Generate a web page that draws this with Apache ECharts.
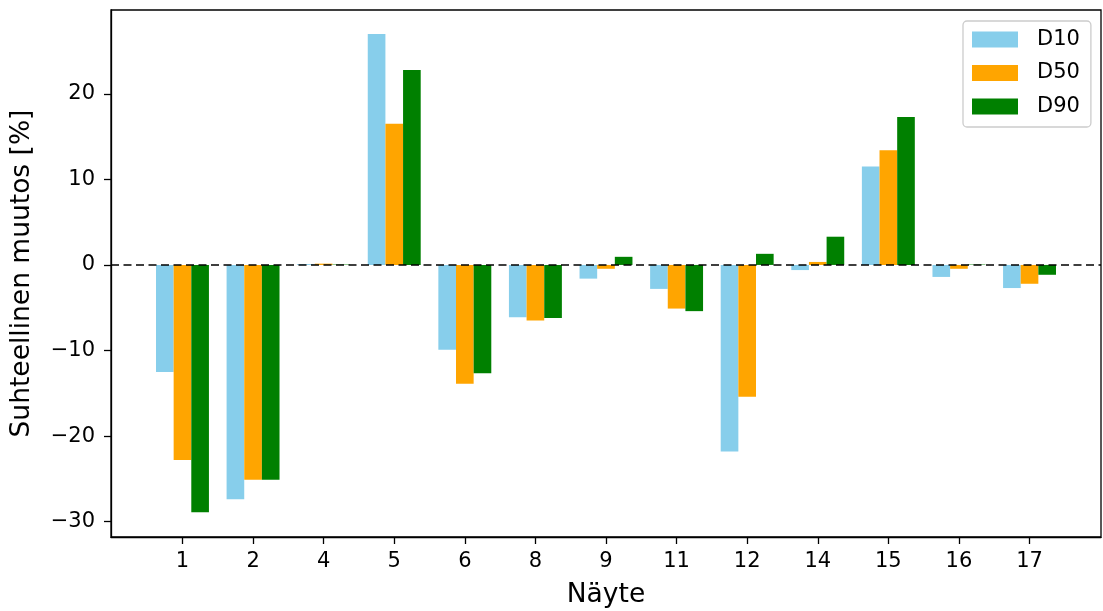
<!DOCTYPE html>
<html>
<head>
<meta charset="utf-8">
<script src="https://cdn.jsdelivr.net/npm/echarts@6/dist/echarts.min.js"></script>
<style>
html,body{margin:0;padding:0;background:#fff;}
#chart{width:1103px;height:611px;}
</style>
</head>
<body>
<div id="chart"></div>
<script>
var categories = ['1','2','4','5','6','8','9','11','12','14','15','16','17'];
var d10 = [-12.5, -27.4, 0.1, 27.0, -9.9, -6.1, -1.6, -2.8, -21.8, -0.6, 11.5, -1.4, -2.7];
var d50 = [-22.8, -25.1, 0.15, 16.5, -13.9, -6.5, -0.45, -5.1, -15.4, 0.35, 13.4, -0.45, -2.2];
var d90 = [-28.9, -25.1, 0.05, 22.8, -12.65, -6.2, 0.95, -5.4, 1.3, 3.3, 17.3, 0.05, -1.15];
var yTicks = [-30, -20, -10, 0, 10, 20];
var seriesNames = ['D10', 'D50', 'D90'];
var colors = ['#87CEEB', '#FFA500', '#008000'];

var font = 'DejaVu Sans';
var xIdx = categories.map(function(c, i){ return i; });
function pairs(arr){ return arr.map(function(v, i){ return [xIdx[i], v]; }); }
var allData = [d10, d50, d90];

var chart = echarts.init(document.getElementById('chart'), null, {renderer: 'canvas'});
var series = seriesNames.map(function(name, k){
  var s = {
    name: name,
    type: 'bar',
    data: pairs(allData[k]),
    barWidth: '25%',
    barGap: '0%',
    itemStyle: {color: colors[k]},
    emphasis: {disabled: true}
  };
  if (k === seriesNames.length - 1) {
    s.markLine = {
      silent: true,
      symbol: 'none',
      label: {show: false},
      lineStyle: {color: '#000', width: 1.5, type: [8, 4.5]},
      data: [{yAxis: 0}]
    };
  }
  return s;
});

chart.setOption({
  animation: false,
  backgroundColor: '#fff',
  textStyle: {fontFamily: font},
  grid: {left: 111, right: 2, top: 10, bottom: 74, outerBoundsMode: 'none', containLabel: false,
    show: true, borderColor: '#000', borderWidth: 1.3, backgroundColor: 'transparent'},
  legend: {
    orient: 'vertical',
    left: 963, top: 21,
    padding: [8, 11, 10, 9],
    itemWidth: 46, itemHeight: 16, itemGap: 12.5,
    borderColor: '#cccccc', borderWidth: 1.3, borderRadius: 4,
    backgroundColor: 'rgba(255,255,255,0.8)',
    icon: 'rect',
    textStyle: {fontFamily: font, fontSize: 21, color: '#000', lineHeight: 21, padding: [0, 0, 0, 14]},
    data: seriesNames
  },
  xAxis: {
    type: 'value',
    min: -1.0125, max: 13.0125,
    name: 'Näyte', nameLocation: 'middle', nameGap: 45,
    nameTextStyle: {fontFamily: font, fontSize: 26.5, color: '#000'},
    axisLine: {show: true, onZero: false, lineStyle: {color: '#000', width: 1.3}},
    axisTick: {show: true, length: 7, lineStyle: {color: '#000', width: 1.3}, customValues: xIdx},
    axisLabel: {fontFamily: font, fontSize: 21, color: '#000', margin: 14, customValues: xIdx,
      formatter: function(v){ return categories[Math.round(v)]; }},
    splitLine: {show: false}
  },
  yAxis: {
    type: 'value',
    min: -31.8, max: 29.8,
    name: 'Suhteellinen muutos [%]', nameLocation: 'middle', nameGap: 75, nameRotate: 90,
    nameTextStyle: {fontFamily: font, fontSize: 26.5, color: '#000'},
    axisLine: {show: true, onZero: false, lineStyle: {color: '#000', width: 1.3}},
    axisTick: {show: true, length: 7, lineStyle: {color: '#000', width: 1.3}, customValues: yTicks},
    axisLabel: {fontFamily: font, fontSize: 21, color: '#000', margin: 16, customValues: yTicks,
      formatter: function(v){ return v < 0 ? '\u2212' + Math.abs(v) : String(v); }},
    splitLine: {show: false}
  },
  series: series
});
</script>
</body>
</html>
